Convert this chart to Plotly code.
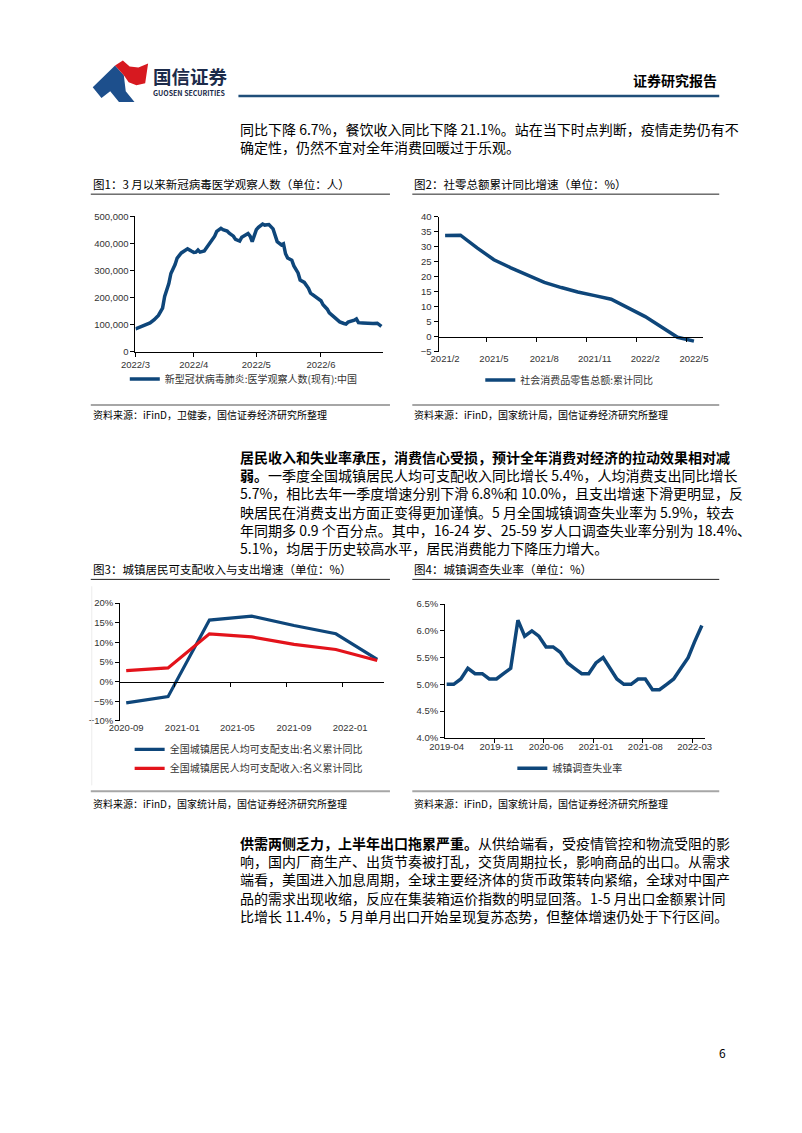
import plotly.graph_objects as go

W, H = 802, 1133
CJK = 'Noto Sans CJK SC'
NUM = 'Liberation Sans'
BLUE = '#0e467a'
RED = '#e3131b'

# 图1 新冠医学观察人数
c1_dates = ['2022-03-04', '2022-03-06', '2022-03-09', '2022-03-11', '2022-03-13', '2022-03-15', '2022-03-17',
            '2022-03-18', '2022-03-20', '2022-03-21', '2022-03-23', '2022-03-24', '2022-03-26', '2022-03-27',
            '2022-03-29', '2022-03-31', '2022-04-01', '2022-04-02', '2022-04-03', '2022-04-04', '2022-04-06',
            '2022-04-07', '2022-04-09', '2022-04-11', '2022-04-12', '2022-04-14', '2022-04-15', '2022-04-17',
            '2022-04-18', '2022-04-20', '2022-04-21', '2022-04-23', '2022-04-24', '2022-04-25', '2022-04-27',
            '2022-04-28', '2022-04-29', '2022-04-30', '2022-05-01', '2022-05-02', '2022-05-04', '2022-05-05',
            '2022-05-07', '2022-05-09', '2022-05-10', '2022-05-11', '2022-05-13', '2022-05-14', '2022-05-15',
            '2022-05-16', '2022-05-18', '2022-05-19', '2022-05-21', '2022-05-22', '2022-05-24', '2022-05-26',
            '2022-05-27', '2022-05-29', '2022-05-30', '2022-06-01', '2022-06-02', '2022-06-04', '2022-06-05',
            '2022-06-07', '2022-06-09', '2022-06-10', '2022-06-12', '2022-06-13', '2022-06-14', '2022-06-16',
            '2022-06-17', '2022-06-18', '2022-06-19', '2022-06-21', '2022-06-23', '2022-06-26', '2022-06-28',
            '2022-06-29', '2022-06-30']
c1_vals = [84000, 90000, 98000, 106000, 118000, 134000, 161000, 204000, 252000, 289000, 322000, 346000,
           365000, 371000, 380000, 371000, 367000, 368000, 376000, 368000, 372000, 383000, 405000, 427000,
           445000, 456000, 451000, 446000, 438000, 427000, 415000, 409000, 423000, 429000, 437000, 427000,
           407000, 429000, 451000, 460000, 472000, 468000, 470000, 454000, 432000, 407000, 395000, 399000,
           362000, 346000, 338000, 317000, 291000, 265000, 256000, 234000, 216000, 204000, 198000, 188000,
           173000, 157000, 143000, 129000, 118000, 110000, 104000, 102000, 109000, 112000, 116000, 121000,
           107000, 106000, 104000, 104000, 105000, 100000, 93000]
c1_name = '新型冠状病毒肺炎:医学观察人数(现有):中国'
c1_xticks = ['2022-03-04', '2022-04-01', '2022-05-01', '2022-06-01']
c1_xlabels = ['2022/3', '2022/4', '2022/5', '2022/6']
c1_yticks = [0, 100000, 200000, 300000, 400000, 500000]
c1_ylabels = ['0', '100,000', '200,000', '300,000', '400,000', '500,000']

# 图2 社零累计同比
c2_months = ['2021-02-01', '2021-03-01', '2021-04-01', '2021-05-01', '2021-06-01', '2021-07-01', '2021-08-01',
             '2021-09-01', '2021-10-01', '2021-11-01', '2021-12-01', '2022-02-01', '2022-03-01', '2022-04-01',
             '2022-05-01']
c2_vals = [33.8, 33.9, 29.6, 25.7, 23.0, 20.7, 18.1, 16.4, 14.9, 13.7, 12.5, 6.7, 3.3, -0.2, -1.5]
c2_name = '社会消费品零售总额:累计同比'
c2_xticks = ['2021-02-01', '2021-05-01', '2021-08-01', '2021-11-01', '2022-02-01', '2022-05-01']
c2_xlabels = ['2021/2', '2021/5', '2021/8', '2021/11', '2022/2', '2022/5']
c2_marks = ['2021-04-17', '2021-07-17', '2021-10-17', '2022-01-17', '2022-04-17']

# 图3 城镇居民收入与支出
c3_months = ['2020-09-01', '2020-12-01', '2021-03-01', '2021-06-01', '2021-09-01', '2021-12-01', '2022-03-01']
c3_spend = [-5.4, -3.8, 15.7, 16.7, 14.3, 12.2, 5.7]
c3_income = [2.8, 3.5, 12.2, 11.4, 9.5, 8.2, 5.4]
c3_names = ['全国城镇居民人均可支配支出:名义累计同比', '全国城镇居民人均可支配收入:名义累计同比']
c3_xticks = ['2020-09-01', '2021-01-01', '2021-05-01', '2021-09-01', '2022-01-01']
c3_xlabels = ['2020-09', '2021-01', '2021-05', '2021-09', '2022-01']
c3_marks = ['2020-12-16', '2021-04-16', '2021-08-16', '2021-12-16']

# 图4 城镇调查失业率
c4_months = ['2019-04', '2019-05', '2019-06', '2019-07', '2019-08', '2019-09', '2019-10', '2019-11', '2019-12',
             '2020-01', '2020-02', '2020-03', '2020-04', '2020-05', '2020-06', '2020-07', '2020-08', '2020-09',
             '2020-10', '2020-11', '2020-12', '2021-01', '2021-02', '2021-03', '2021-04', '2021-05', '2021-06',
             '2021-07', '2021-08', '2021-09', '2021-10', '2021-11', '2021-12', '2022-01', '2022-02', '2022-03',
             '2022-04']
c4_vals = [5.0, 5.0, 5.1, 5.3, 5.2, 5.2, 5.1, 5.1, 5.2, 5.3, 6.2, 5.9, 6.0, 5.9, 5.7, 5.7, 5.6, 5.4,
           5.3, 5.2, 5.2, 5.4, 5.5, 5.3, 5.1, 5.0, 5.0, 5.1, 5.1, 4.9, 4.9, 5.0, 5.1, 5.3, 5.5, 5.8, 6.1]
c4_name = '城镇调查失业率'
c4_xticks = ['2019-04-01', '2019-11-01', '2020-06-01', '2021-01-01', '2021-08-01', '2022-03-01']
c4_xlabels = ['2019-04', '2019-11', '2020-06', '2021-01', '2021-08', '2022-03']
c4_marks = ['2019-10-22', '2020-05-22', '2020-12-22', '2021-07-22', '2022-02-20']

# 文字
para1 = ['同比下降 6.7%，餐饮收入同比下降 21.1%。站在当下时点判断，疫情走势仍有不',
         '确定性，仍然不宜对全年消费回暖过于乐观。']
para2 = ['<b>居民收入和失业率承压，消费信心受损，预计全年消费对经济的拉动效果相对减</b>',
         '<b>弱。</b>一季度全国城镇居民人均可支配收入同比增长 5.4%，人均消费支出同比增长',
         '5.7%，相比去年一季度增速分别下滑 6.8%和 10.0%，且支出增速下滑更明显，反',
         '映居民在消费支出方面正变得更加谨慎。5 月全国城镇调查失业率为 5.9%，较去',
         '年同期多 0.9 个百分点。其中，16-24 岁、25-59 岁人口调查失业率分别为 18.4%、',
         '5.1%，均居于历史较高水平，居民消费能力下降压力增大。']
para3 = ['<b>供需两侧乏力，上半年出口拖累严重。</b>从供给端看，受疫情管控和物流受阻的影',
         '响，国内厂商生产、出货节奏被打乱，交货周期拉长，影响商品的出口。从需求',
         '端看，美国进入加息周期，全球主要经济体的货币政策转向紧缩，全球对中国产',
         '品的需求出现收缩，反应在集装箱运价指数的明显回落。1-5 月出口金额累计同',
         '比增长 11.4%，5 月单月出口开始呈现复苏态势，但整体增速仍处于下行区间。']
titles = ['图1：3 月以来新冠病毒医学观察人数（单位：人）', '图2：社零总额累计同比增速（单位：%）',
          '图3：城镇居民可支配收入与支出增速（单位：%）', '图4：城镇调查失业率（单位：%）']
sources = ['资料来源：iFinD，卫健委，国信证券经济研究所整理', '资料来源：iFinD，国家统计局，国信证券经济研究所整理',
           '资料来源：iFinD，国家统计局，国信证券经济研究所整理', '资料来源：iFinD，国家统计局，国信证券经济研究所整理']


def X(x):
    return x / W


def Y(y):
    return 1 - y / H


def dom(top, bottom):
    return [Y(bottom), Y(top)]


fig = go.Figure()

# 图1
fig.add_trace(go.Scatter(x=c1_dates, y=c1_vals, mode='lines', name=c1_name,
                         line=dict(color=BLUE, width=3.5), xaxis='x', yaxis='y', legend='legend'))
# 图2
fig.add_trace(go.Scatter(x=c2_months, y=c2_vals, mode='lines', name=c2_name,
                         line=dict(color=BLUE, width=3.5), xaxis='x2', yaxis='y2', legend='legend2'))
fig.add_trace(go.Scatter(x=c2_months, y=c2_vals, mode='lines', showlegend=False, hoverinfo='skip',
                         line=dict(width=0), xaxis='x5', yaxis='y2'))
# 图3
fig.add_trace(go.Scatter(x=c3_months, y=c3_spend, mode='lines', name=c3_names[0],
                         line=dict(color=BLUE, width=3.2), xaxis='x3', yaxis='y3', legend='legend3'))
fig.add_trace(go.Scatter(x=c3_months, y=c3_income, mode='lines', name=c3_names[1],
                         line=dict(color=RED, width=3.2), xaxis='x3', yaxis='y3', legend='legend3'))
fig.add_trace(go.Scatter(x=c3_months, y=c3_income, mode='lines', showlegend=False, hoverinfo='skip',
                         line=dict(width=0), xaxis='x6', yaxis='y3'))
# 图4
fig.add_trace(go.Scatter(x=c4_months, y=c4_vals, mode='lines', name=c4_name,
                         line=dict(color=BLUE, width=3.5), xaxis='x4', yaxis='y4', legend='legend4'))
fig.add_trace(go.Scatter(x=c4_months, y=c4_vals, mode='lines', showlegend=False, hoverinfo='skip',
                         line=dict(width=0), xaxis='x7', yaxis='y4'))

tickfont = dict(family=NUM, size=9.5, color='#333333')
base = dict(showgrid=False, zeroline=False, showline=True, linecolor='black', linewidth=1,
            ticks='outside', ticklen=4, tickcolor='black', tickwidth=1, tickfont=tickfont, fixedrange=True)

c2_dom, c3_dom = dom(213, 349), dom(603, 722)
c2_zero = c2_dom[0] + 5 / 45 * (c2_dom[1] - c2_dom[0])
c3_zero = c3_dom[0] + 10 / 30 * (c3_dom[1] - c3_dom[0])

fig.update_layout(
    xaxis=dict(base, domain=[X(123), X(378)], anchor='y', type='date',
               range=['2022-03-04', '2022-06-30 20:00'], tickvals=c1_xticks, ticktext=c1_xlabels),
    yaxis=dict(base, domain=dom(212.5, 349), anchor='x', range=[0, 500000],
               tickvals=c1_yticks, ticktext=c1_ylabels),
    xaxis2=dict(base, domain=[X(435), X(707)], anchor='y2', type='date', showline=False, ticks='',
                range=['2021-01-20', '2022-05-17'], tickvals=c2_xticks, ticktext=c2_xlabels),
    yaxis2=dict(base, domain=c2_dom, anchor='x2', range=[-5, 40], dtick=5),
    xaxis5=dict(base, overlaying='x2', anchor='free', position=c2_zero, type='date',
                range=['2021-01-20', '2022-05-17'], tickvals=c2_marks, showticklabels=False),
    xaxis3=dict(base, domain=[X(107.3), X(379)], anchor='y3', type='date', showline=False, ticks='',
                range=['2020-08-19', '2022-03-16'], tickvals=c3_xticks, ticktext=c3_xlabels),
    yaxis3=dict(base, domain=c3_dom, anchor='x3', range=[-10, 20], dtick=5, ticksuffix='%'),
    xaxis6=dict(base, overlaying='x3', anchor='free', position=c3_zero, type='date',
                range=['2020-08-19', '2022-03-16'], tickvals=c3_marks, showticklabels=False),
    xaxis4=dict(base, domain=[X(441.7), X(709)], anchor='y4', type='date', ticks='',
                range=['2019-03-25', '2022-04-13'], tickvals=c4_xticks, ticktext=c4_xlabels),
    yaxis4=dict(base, domain=dom(604, 739), anchor='x4', range=[4.0, 6.5], dtick=0.5,
                tickformat='.1f', ticksuffix='%'),
    xaxis7=dict(base, overlaying='x4', anchor='y4', type='date', showline=False,
                range=['2019-03-25', '2022-04-13'], tickvals=c4_marks, showticklabels=False),
)

legfont = dict(family=CJK, size=10, color='#333333')
legbase = dict(xanchor='left', yanchor='top', font=legfont, bgcolor='rgba(0,0,0,0)',
               itemwidth=30, borderwidth=0, tracegroupgap=0)
fig.update_layout(
    legend=dict(legbase, x=X(112), y=Y(362)),
    legend2=dict(legbase, x=X(478), y=Y(363)),
    legend3=dict(legbase, x=X(117), y=Y(736)),
    legend4=dict(legbase, x=X(511), y=Y(755)),
)

shapes = []
# 页眉
shapes.append(dict(type='line', xref='paper', yref='paper', x0=X(229), x1=X(724), y0=Y(91), y1=Y(91),
                   line=dict(color='#1f4e79', width=2.5)))


def path(pts):
    s = 'M ' + ' L '.join(f'{X(a):.5f},{Y(b):.5f}' for a, b in pts) + ' Z'
    return s


logo_blue = [(79, 82), (102, 60), (111, 70), (113, 86), (122, 97), (106, 97), (97, 86), (88, 93)]
logo_red = [(102, 60), (110, 55), (117, 61), (126, 62), (136, 58), (133, 78), (124, 80), (116, 77), (111, 70)]
shapes.append(dict(type='path', xref='paper', yref='paper', path=path(logo_blue),
                   fillcolor='#1d4f8c', line=dict(width=0)))
shapes.append(dict(type='path', xref='paper', yref='paper', path=path(logo_red),
                   fillcolor='#d71920', line=dict(width=0)))

# 图标题下划线与资料来源线
for yy in (190, 579):
    for x0, x1 in ((77, 385), (408, 724)):
        shapes.append(dict(type='line', xref='paper', yref='paper', x0=X(x0), x1=X(x1), y0=Y(yy), y1=Y(yy),
                           line=dict(color='#222222', width=1)))
for yy in (403, 793):
    for x0, x1 in ((77, 385), (408, 724)):
        shapes.append(dict(type='line', xref='paper', yref='paper', x0=X(x0), x1=X(x1), y0=Y(yy), y1=Y(yy),
                           line=dict(color='#a6a6a6', width=2)))
shapes.append(dict(type='line', xref='paper', yref='paper', x0=X(78), x1=X(78), y0=Y(586), y1=Y(787),
                   line=dict(color='#ececec', width=1)))

ann = []


def txt(x, y, s, size, color='black', anchor='left', family=CJK):
    ann.append(dict(x=X(x), y=Y(y), xref='paper', yref='paper', text=s, showarrow=False, align='left',
                    xanchor=anchor, yanchor='middle', font=dict(family=family, size=size, color=color)))


txt(139, 71, '<b>国信证券</b>', 18.5, '#1c2b4a')
txt(139, 88, '<b>GUOSEN SECURITIES</b>', 7, '#1c2b4a')
txt(724, 75, '<b>证券研究报告</b>', 14, 'black', anchor='right')

# 正文段落（每段一个多行文本）
BODY = 14
txt(229, 133, '<br>'.join(para1), BODY)
txt(229, 501, '<br>'.join(para2), BODY)
txt(229, 882, '<br>'.join(para3), BODY)

txt(77, 180, titles[0], 11.5)
txt(408, 180, titles[1], 11.5)
txt(77, 569, titles[2], 11.5)
txt(408, 569, titles[3], 11.5)
txt(77, 413, sources[0], 10)
txt(408, 413, sources[1], 10)
txt(77, 805, sources[2], 10)
txt(408, 805, sources[3], 10)
txt(722, 1057, '6', 12)

fig.update_layout(
    width=W, height=H, margin=dict(l=0, r=0, t=0, b=0),
    paper_bgcolor='white', plot_bgcolor='white',
    shapes=shapes, annotations=ann, font=dict(family=CJK),
)

fig.write_html("out.html", config={'displayModeBar': False},
               post_script="document.body.style.margin='0';")
